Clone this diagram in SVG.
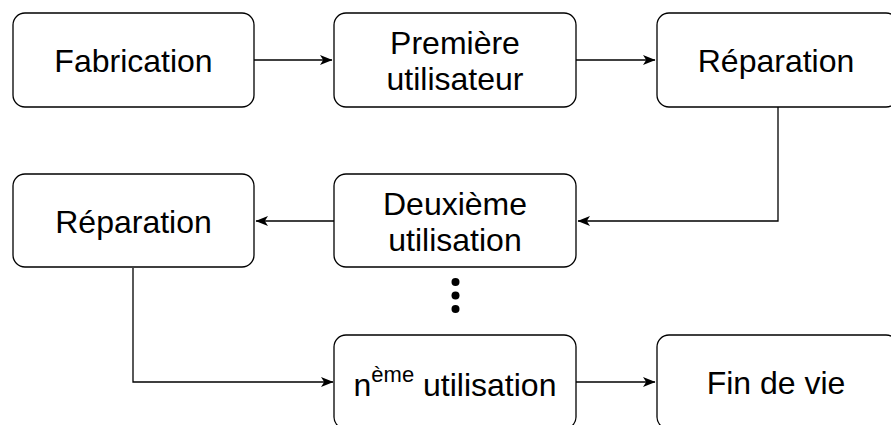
<svg xmlns="http://www.w3.org/2000/svg" width="891" height="425" viewBox="0 0 891 425">
<style>
.box{fill:#fff;stroke:#000;stroke-width:1.3}
.lbl{font-family:"Liberation Sans",Arial,sans-serif;font-size:32px;fill:#000;text-anchor:middle}
.edge{fill:none;stroke:#000;stroke-width:1.3}
</style>
<defs>
<marker id="arr" markerWidth="14" markerHeight="12" refX="12" refY="5" orient="auto" markerUnits="userSpaceOnUse">
<path d="M0,0 L12.5,5 L0,10 L3.2,5 Z" fill="#000"/>
</marker>
</defs>
<rect width="891" height="425" fill="#fff"/>
<g id="connectors">
<path class="edge" d="M254,60 H332" marker-end="url(#arr)"/>
<path class="edge" d="M576,60 H655" marker-end="url(#arr)"/>
<path class="edge" d="M778,107 V221 H578" marker-end="url(#arr)"/>
<path class="edge" d="M334,221 H256" marker-end="url(#arr)"/>
<path class="edge" d="M133,268 V382 H333" marker-end="url(#arr)"/>
<path class="edge" d="M576,382 H655" marker-end="url(#arr)"/>
</g>
<g id="n-fabrication">
<rect class="box" x="13" y="13" width="241" height="94" rx="12"/>
<text class="lbl" x="133.5" y="72">Fabrication</text>
</g>
<g id="n-premiere">
<rect class="box" x="334" y="13" width="242" height="94" rx="12"/>
<text class="lbl" x="455" y="54">Première</text>
<text class="lbl" x="455" y="90">utilisateur</text>
</g>
<g id="n-reparation1">
<rect class="box" x="657" y="13" width="241" height="94" rx="12"/>
<text class="lbl" x="776" y="72">Réparation</text>
</g>
<g id="n-deuxieme">
<rect class="box" x="334" y="174" width="242" height="93" rx="12"/>
<text class="lbl" x="455" y="215">Deuxième</text>
<text class="lbl" x="455" y="251">utilisation</text>
</g>
<g id="n-reparation2">
<rect class="box" x="13" y="174" width="241" height="93" rx="12"/>
<text class="lbl" x="133.5" y="233">Réparation</text>
</g>
<g id="n-dots">
<circle cx="455.5" cy="282" r="4" fill="#000"/>
<circle cx="455.5" cy="295.5" r="4" fill="#000"/>
<circle cx="455.5" cy="309" r="4" fill="#000"/>
</g>
<g id="n-nieme">
<rect class="box" x="334" y="335" width="242" height="94" rx="12"/>
<text class="lbl" x="455" y="396">n<tspan font-size="22" dy="-14">ème</tspan><tspan dy="14"> utilisation</tspan></text>
</g>
<g id="n-fin">
<rect class="box" x="657" y="335" width="241" height="94" rx="12"/>
<text class="lbl" x="776" y="394">Fin de vie</text>
</g>
</svg>
